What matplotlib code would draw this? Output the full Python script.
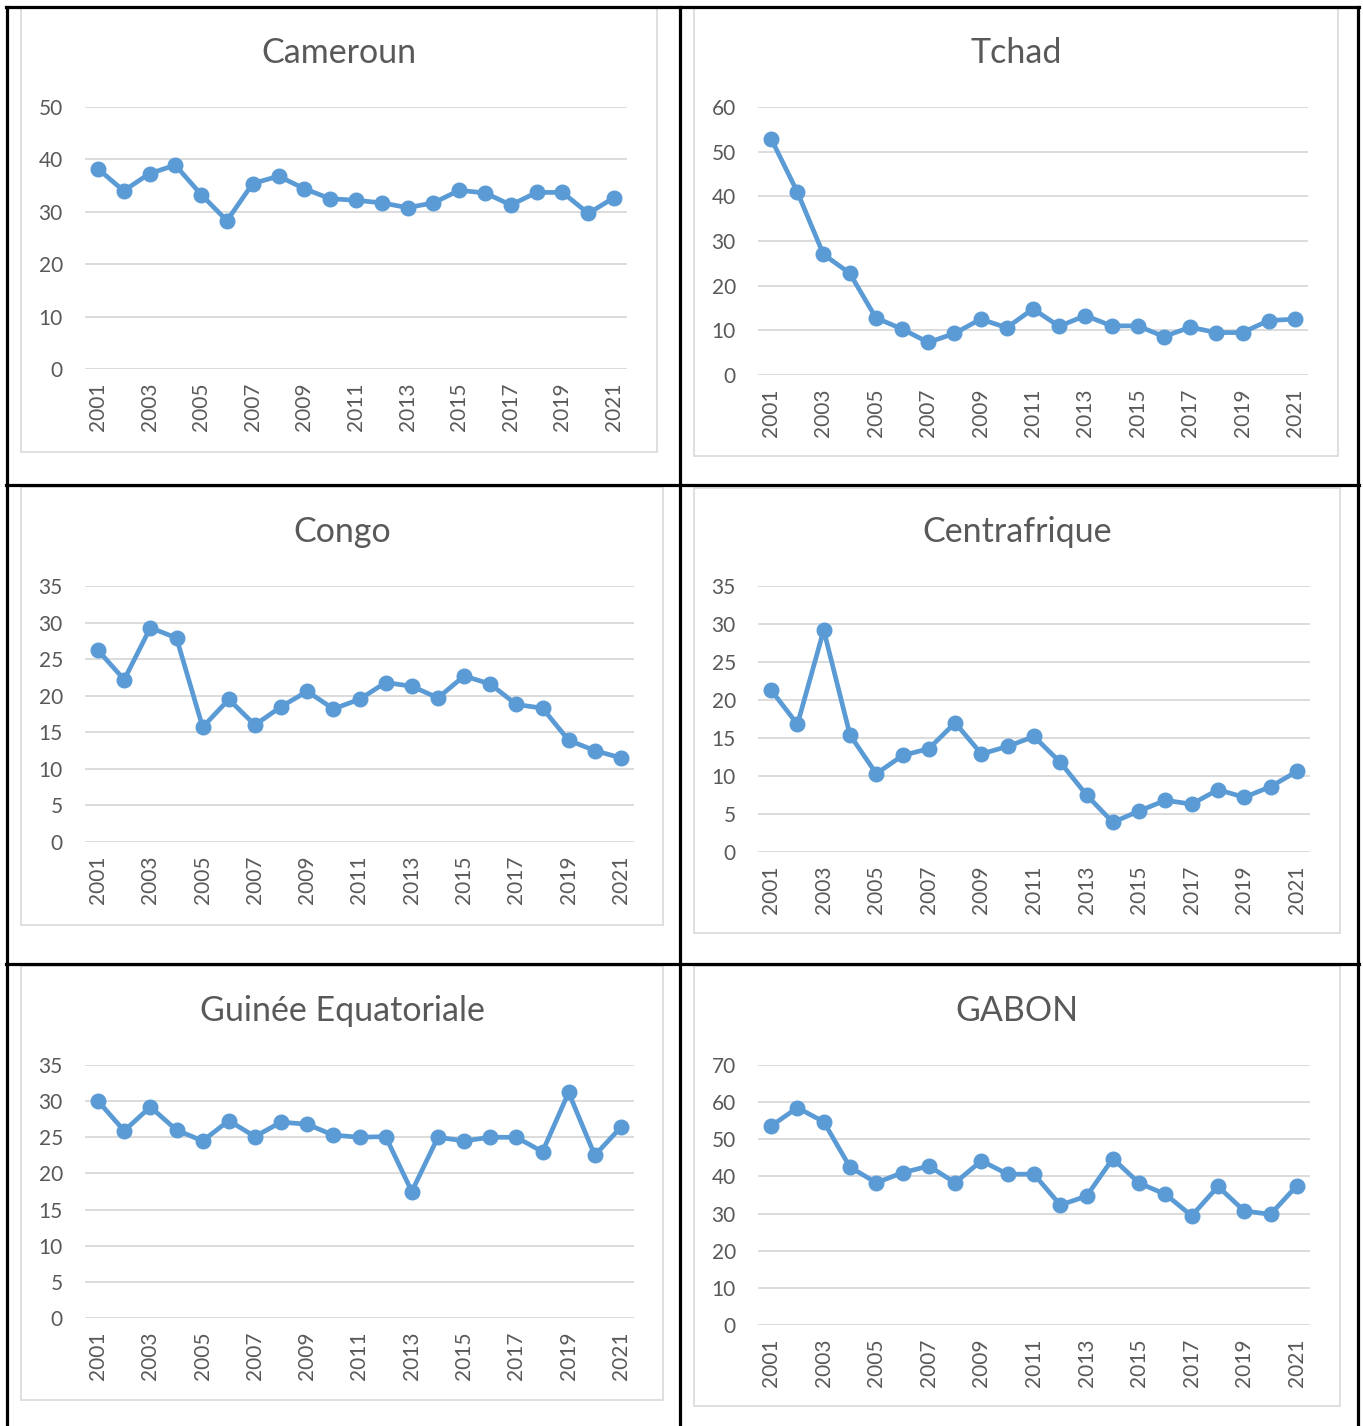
import matplotlib
matplotlib.use("Agg")
import matplotlib.pyplot as plt
from matplotlib.patches import Rectangle
from matplotlib.lines import Line2D

years = list(range(2001, 2022))
year_labels = [str(y) for y in years]

cameroun = [38.2, 34.0, 37.3, 38.9, 33.3, 28.3, 35.4, 36.8, 34.4, 32.5, 32.2,
            31.7, 30.8, 31.7, 34.1, 33.6, 31.3, 33.7, 33.7, 29.7, 32.7]
tchad = [52.9, 41.0, 27.0, 22.8, 12.8, 10.3, 7.3, 9.3, 12.5, 10.6, 14.8,
         10.9, 13.3, 11.0, 11.0, 8.6, 10.7, 9.5, 9.5, 12.2, 12.5]
congo = [26.2, 22.2, 29.3, 27.9, 15.7, 19.5, 16.0, 18.5, 20.6, 18.2, 19.5,
         21.8, 21.3, 19.7, 22.7, 21.6, 18.8, 18.3, 13.9, 12.5, 11.5]
centrafrique = [21.3, 16.8, 29.2, 15.4, 10.3, 12.7, 13.6, 17.0, 12.9, 13.9, 15.2,
                11.8, 7.5, 3.9, 5.4, 6.8, 6.3, 8.2, 7.2, 8.6, 10.6]
guinee = [30.0, 25.9, 29.2, 26.0, 24.5, 27.3, 25.1, 27.1, 26.8, 25.3, 25.0,
          25.1, 17.5, 25.0, 24.5, 25.0, 25.0, 23.0, 31.2, 22.5, 26.4]
gabon = [53.6, 58.5, 54.7, 42.5, 38.3, 41.0, 42.8, 38.3, 44.2, 40.6, 40.6,
         32.3, 34.7, 44.8, 38.2, 35.2, 29.4, 37.3, 30.7, 29.8, 37.5]

titles = ["Cameroun", "Tchad", "Congo", "Centrafrique", "Guinée Equatoriale", "GABON"]
series = [cameroun, tchad, congo, centrafrique, guinee, gabon]
ymaxs = [50, 60, 35, 35, 35, 70]
ysteps = [10, 10, 5, 5, 5, 10]

W, H = 1363, 1426
fig = plt.figure(figsize=(W / 100, H / 100), dpi=100)
fig.patch.set_facecolor("white")

# layout in pixels: frame (x0, y0, x1, y1), plot area (x0, x1, ytop, ybottom), title y
frames = [(21, 8, 657, 452), (694, 8, 1338, 456),
          (21, 487, 663, 925), (694, 488, 1340, 933),
          (21, 966, 663, 1400), (694, 966, 1340, 1406)]
plots = [(85, 627, 107, 369), (758, 1308, 107, 375),
         (85, 634, 586, 842), (758, 1310, 586, 852),
         (85, 634, 1065, 1318), (758, 1310, 1065, 1325)]
title_y = [53, 53, 532, 532, 1011, 1011]

FONT = "Lato"
GREY_TXT = "#595959"
BLUE = "#5B9BD5"
GRID = "#D9D9D9"


def fx(x):
    return x / W


def fy(y):
    return 1 - y / H


for i in range(6):
    fx0, fy0, fx1, fy1 = frames[i]
    fig.patches.append(Rectangle((fx(fx0), fy(fy1)), fx(fx1 - fx0), (fy1 - fy0) / H,
                                 transform=fig.transFigure, fill=False,
                                 edgecolor=GRID, linewidth=1.2, zorder=0))
    px0, px1, pyt, pyb = plots[i]
    ax = fig.add_axes([fx(px0), fy(pyb), fx(px1 - px0), (pyb - pyt) / H])
    n = len(years)
    xs = list(range(n))
    ax.plot(xs, series[i], color=BLUE, linewidth=3.4, marker="o",
            markersize=10.5, markerfacecolor=BLUE, markeredgecolor=BLUE,
            solid_joinstyle="round", clip_on=False, zorder=3)
    ax.set_xlim(-0.5, n - 0.5)
    ax.set_ylim(0, ymaxs[i])
    yt = list(range(0, ymaxs[i] + 1, ysteps[i]))
    ax.set_yticks(yt)
    ax.set_yticklabels([str(v) for v in yt])
    ax.set_xticks(xs[::2])
    ax.set_xticklabels(year_labels[::2], rotation=90)
    ax.grid(axis="y", color=GRID, linewidth=1.3)
    ax.set_axisbelow(True)
    for s in ax.spines.values():
        s.set_visible(False)
    ax.tick_params(axis="y", length=0, pad=16, labelsize=15, labelcolor=GREY_TXT)
    ax.tick_params(axis="x", length=0, pad=10, labelsize=15, labelcolor=GREY_TXT)
    for lab in ax.get_xticklabels() + ax.get_yticklabels():
        lab.set_fontfamily(FONT)
    ax.patch.set_alpha(0)
    fig.text(fx((fx0 + fx1) / 2), fy(title_y[i]), titles[i], ha="center", va="center",
             fontsize=24.5, color=GREY_TXT, fontfamily=FONT)

# black table borders
lw = 2.3
lines = [((7, 7), (7, H)), ((1357.5, 1357.5), (6.5, H)), ((680, 680), (6.5, H)),
         ((6, 1359), (6.5, 6.5)), ((6, 1359), (485, 485)), ((6, 1359), (963.5, 963.5))]
for xsl, ysl in lines:
    fig.lines.append(Line2D([fx(v) for v in xsl], [fy(v) for v in ysl],
                            transform=fig.transFigure, color="black", linewidth=lw,
                            solid_capstyle="projecting"))

fig.savefig("out.png", dpi=100, facecolor="white")
